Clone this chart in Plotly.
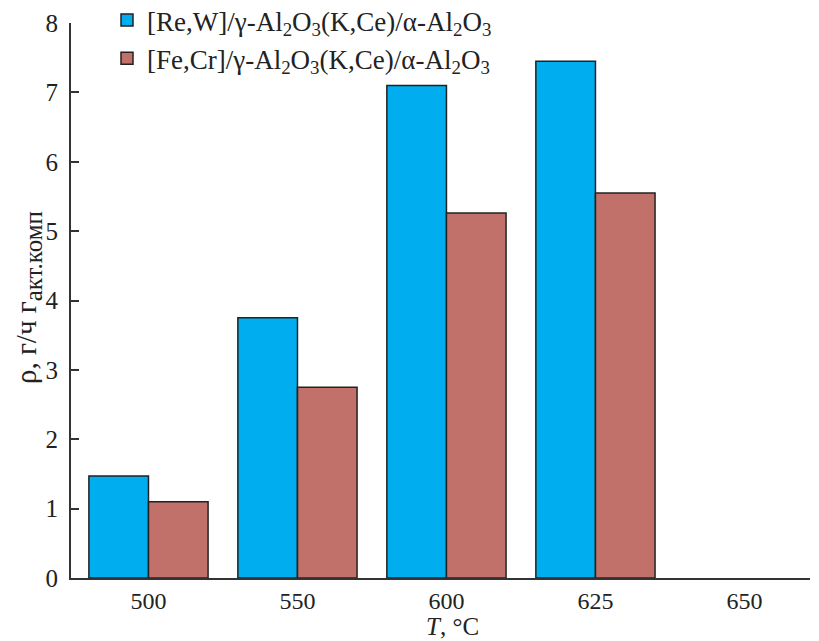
import plotly.graph_objects as go

categories = ["500", "550", "600", "625", "650"]
rew_values = [1.47, 3.75, 7.10, 7.45, None]
fecr_values = [1.10, 2.75, 5.26, 5.55, None]
y_ticks = [0, 1, 2, 3, 4, 5, 6, 7, 8]

name1 = "[Re,W]/γ-Al<sub>2</sub>O<sub>3</sub>(K,Ce)/α-Al<sub>2</sub>O<sub>3</sub>"
name2 = "[Fe,Cr]/γ-Al<sub>2</sub>O<sub>3</sub>(K,Ce)/α-Al<sub>2</sub>O<sub>3</sub>"

fig = go.Figure()
fig.add_trace(go.Bar(x=categories, y=rew_values, name=name1,
                     marker=dict(color="#00AEEF", line=dict(color="#222222", width=1.5))))
fig.add_trace(go.Bar(x=categories, y=fecr_values, name=name2,
                     marker=dict(color="#C1706A", line=dict(color="#222222", width=1.5))))

# page has an 8px body margin; figure is sized so the plot area lands where the reference has it
L, T, R, B = 63, 15, 9, 63
W, H = 811, 633
pw, ph = W - L - R, H - T - B

font = "Liberation Serif, Times New Roman, serif"
fig.update_layout(
    width=W, height=H,
    margin=dict(l=L, r=R, t=T, b=B, autoexpand=False),
    plot_bgcolor="white", paper_bgcolor="white",
    barmode="group", bargap=0.2, bargroupgap=0,
    font=dict(family=font, size=24, color="#222222"),
    showlegend=True,
    legend=dict(x=36 / pw, y=1 + 27 / ph, xanchor="left", yanchor="top",
                bgcolor="rgba(0,0,0,0)", font=dict(size=27),
                tracegroupgap=4, itemwidth=30),
    xaxis=dict(type="category", range=[-0.52, 4.44], showline=True, linecolor="#333333",
               linewidth=2, ticks="", showgrid=False, automargin=False,
               ticklabelstandoff=0, tickfont=dict(size=24)),
    yaxis=dict(range=[0, 8], tickvals=y_ticks, showline=True, linecolor="#333333",
               linewidth=2, ticks="inside", ticklen=8, tickwidth=1.5, tickcolor="#333333",
               showgrid=False, zeroline=False, automargin=False, ticklabelstandoff=6,
               tickfont=dict(size=25)),
    annotations=[
        dict(text="<i>T</i>, °C", xref="paper", yref="paper", x=(452 - 71) / pw,
             y=-(626 - 578) / ph, xanchor="center", yanchor="middle", showarrow=False,
             font=dict(size=25)),
        dict(text="ρ, г/ч г<sub><span style='font-size:25px'>акт.комп</span></sub>",
             xref="paper", yref="paper",
             x=-(71 - 28) / pw, y=(578 - 298) / ph, textangle=-90,
             xanchor="center", yanchor="middle", showarrow=False, font=dict(size=29)),
    ],
)

fig.write_html("out.html")
